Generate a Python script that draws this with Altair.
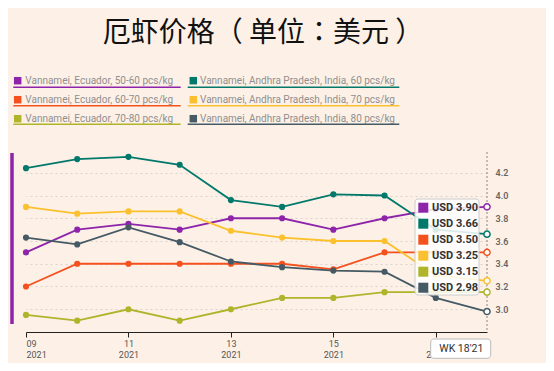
import altair as alt
import pandas as pd

weeks = [9, 10, 11, 12, 13, 14, 15, 16, 17, 18]
series_names = [
    "Vannamei, Ecuador, 50-60 pcs/kg",
    "Vannamei, Andhra Pradesh, India, 60 pcs/kg",
    "Vannamei, Ecuador, 60-70 pcs/kg",
    "Vannamei, Andhra Pradesh, India, 70 pcs/kg",
    "Vannamei, Ecuador, 70-80 pcs/kg",
    "Vannamei, Andhra Pradesh, India, 80 pcs/kg",
]
colors = ["#8e24aa", "#00796b", "#f4511e", "#fbc02d", "#afb42b", "#455a64"]

ecu_50_60 = [3.50, 3.70, 3.75, 3.70, 3.80, 3.80, 3.70, 3.80, 3.88, 3.90]
ind_60 = [4.24, 4.32, 4.34, 4.27, 3.96, 3.90, 4.01, 4.00, 3.70, 3.66]
ecu_60_70 = [3.20, 3.40, 3.40, 3.40, 3.40, 3.40, 3.35, 3.50, 3.50, 3.50]
ind_70 = [3.90, 3.84, 3.86, 3.86, 3.69, 3.63, 3.60, 3.60, 3.30, 3.25]
ecu_70_80 = [2.95, 2.90, 3.00, 2.90, 3.00, 3.10, 3.10, 3.15, 3.15, 3.15]
ind_80 = [3.63, 3.57, 3.72, 3.59, 3.42, 3.37, 3.34, 3.33, 3.10, 2.98]
all_vals = [ecu_50_60, ind_60, ecu_60_70, ind_70, ecu_70_80, ind_80]

x_tick_values = [9, 11, 13, 15, 17]
y_tick_values = [3.0, 3.2, 3.4, 3.6, 3.8, 4.0, 4.2]
title_text = "厄虾价格（ 单位：美元 ）"
week_label = "WK 18'21"

rows = []
for name, vals in zip(series_names, all_vals):
    for w, v in zip(weeks, vals):
        rows.append({"series": name, "week": w, "price": v})
df = pd.DataFrame(rows)
one = pd.DataFrame({"a": [0]})

W, H = 461, 182
FONT = "Roboto"

xenc = alt.X(
    "week:Q",
    scale=alt.Scale(domain=[9, 18], nice=False, zero=False),
    axis=alt.Axis(
        values=x_tick_values,
        labelExpr="[(datum.value < 10 ? '0' : '') + datum.value, '2021']",
        title=None, grid=False, domainColor="#222", domainWidth=1,
        tickColor="#222", tickSize=5, labelColor="#555", labelFontSize=9,
        labelPadding=2, labelLineHeight=11, labelFont=FONT,
    ),
)
yenc = alt.Y(
    "price:Q",
    scale=alt.Scale(domain=[2.8, 4.4], nice=False, zero=False),
    axis=alt.Axis(
        orient="right", values=y_tick_values, format=".1f", title=None,
        domain=False, ticks=False, labelPadding=8, labelColor="#666",
        labelFontSize=9, labelFontWeight=600, labelFont=FONT,
        grid=True, gridDash=[2, 3], gridColor="#d9d4cf", gridWidth=1,
    ),
)
cscale = alt.Scale(domain=series_names, range=colors)

base = alt.Chart(df)
lines = base.mark_line(strokeWidth=1.8).encode(
    x=xenc, y=yenc, color=alt.Color("series:N", scale=cscale, legend=None)
)
pts = base.transform_filter("datum.week < 18").mark_circle(size=38, opacity=1).encode(
    x=xenc, y=yenc, color=alt.Color("series:N", scale=cscale, legend=None)
)
last = base.transform_filter("datum.week == 18").mark_circle(
    size=38, opacity=1, fill="white", strokeWidth=1.5
).encode(
    x=xenc, y=yenc, stroke=alt.Stroke("series:N", scale=cscale, legend=None)
)

vrule = alt.Chart(one).mark_rule(color="#999", strokeDash=[2, 2], strokeWidth=1.2).encode(
    x=alt.datum(18), y=alt.value(2), y2=alt.value(H)
)
sidebar = alt.Chart(one).mark_rule(color="#8e24aa", strokeWidth=3.5, clip=False).encode(
    x=alt.value(-14), y=alt.value(3), y2=alt.value(174)
)

layers = [vrule, lines, pts, last, sidebar]

# title
layers.append(
    alt.Chart(one).mark_text(
        fontSize=28, font="Noto Sans CJK TC", color="#111", align="center", baseline="middle"
    ).encode(x=alt.value(237), y=alt.value(-116), text=alt.value(title_text))
)

# custom legend (2 columns x 3 rows)
col_sq = [-8.3, 167.3]
col_tx = [-0.7, 174.0]
col_ul = [(-12.7, 154.7), (161.7, 373.3)]
row_y = [-69.3, -50.3, -31.3]
row_ul = [-62.7, -44.3, -25.7]
for i, (name, c) in enumerate(zip(series_names, colors)):
    col = i % 2
    r = i // 2
    layers.append(
        alt.Chart(one).mark_square(size=56, color=c, opacity=1).encode(
            x=alt.value(col_sq[col]), y=alt.value(row_y[r])
        )
    )
    layers.append(
        alt.Chart(one).mark_text(
            fontSize=10, font=FONT, color="#8f8f8f", align="left", baseline="middle"
        ).encode(x=alt.value(col_tx[col]), y=alt.value(row_y[r]), text=alt.value(name))
    )
    layers.append(
        alt.Chart(one).mark_rule(color=c, strokeWidth=1.5).encode(
            x=alt.value(col_ul[col][0]), x2=alt.value(col_ul[col][1]), y=alt.value(row_ul[r])
        )
    )

# tooltip box
layers.append(
    alt.Chart(one).mark_rect(
        fill="white", fillOpacity=0.85, stroke="#cccccc", strokeWidth=1, cornerRadius=3
    ).encode(x=alt.value(389), x2=alt.value(453), y=alt.value(49), y2=alt.value(145))
)
final = sorted(
    [(vals[-1], c) for vals, c in zip(all_vals, colors)], key=lambda t: -t[0]
)
for k, (v, c) in enumerate(final):
    yy = 57.7 + 16 * k
    layers.append(
        alt.Chart(one).mark_square(size=100, color=c, opacity=1).encode(
            x=alt.value(397.3), y=alt.value(yy)
        )
    )
    layers.append(
        alt.Chart(one).mark_text(
            fontSize=11, font=FONT, fontWeight="bold", color="#333", align="left", baseline="middle"
        ).encode(x=alt.value(406), y=alt.value(yy), text=alt.value(f"USD {v:.2f}"))
    )

# week label box
layers.append(
    alt.Chart(one).mark_rect(
        fill="white", stroke="#bbbbbb", strokeWidth=1, cornerRadius=3
    ).encode(x=alt.value(404.7), x2=alt.value(464.7), y=alt.value(189), y2=alt.value(208.3))
)
layers.append(
    alt.Chart(one).mark_text(
        fontSize=10.5, font=FONT, color="#333", align="center", baseline="middle"
    ).encode(x=alt.value(435.3), y=alt.value(198.7), text=alt.value(week_label))
)

chart = alt.layer(*layers).properties(
    width=W, height=H,
    autosize=alt.AutoSizeParams(type="none"),
    padding={"left": 18, "top": 142, "right": 59, "bottom": 31},
    background="#fdf1e7",
).configure_view(stroke=None)

chart.save("out.html", embed_options={"renderer": "svg", "actions": False})
